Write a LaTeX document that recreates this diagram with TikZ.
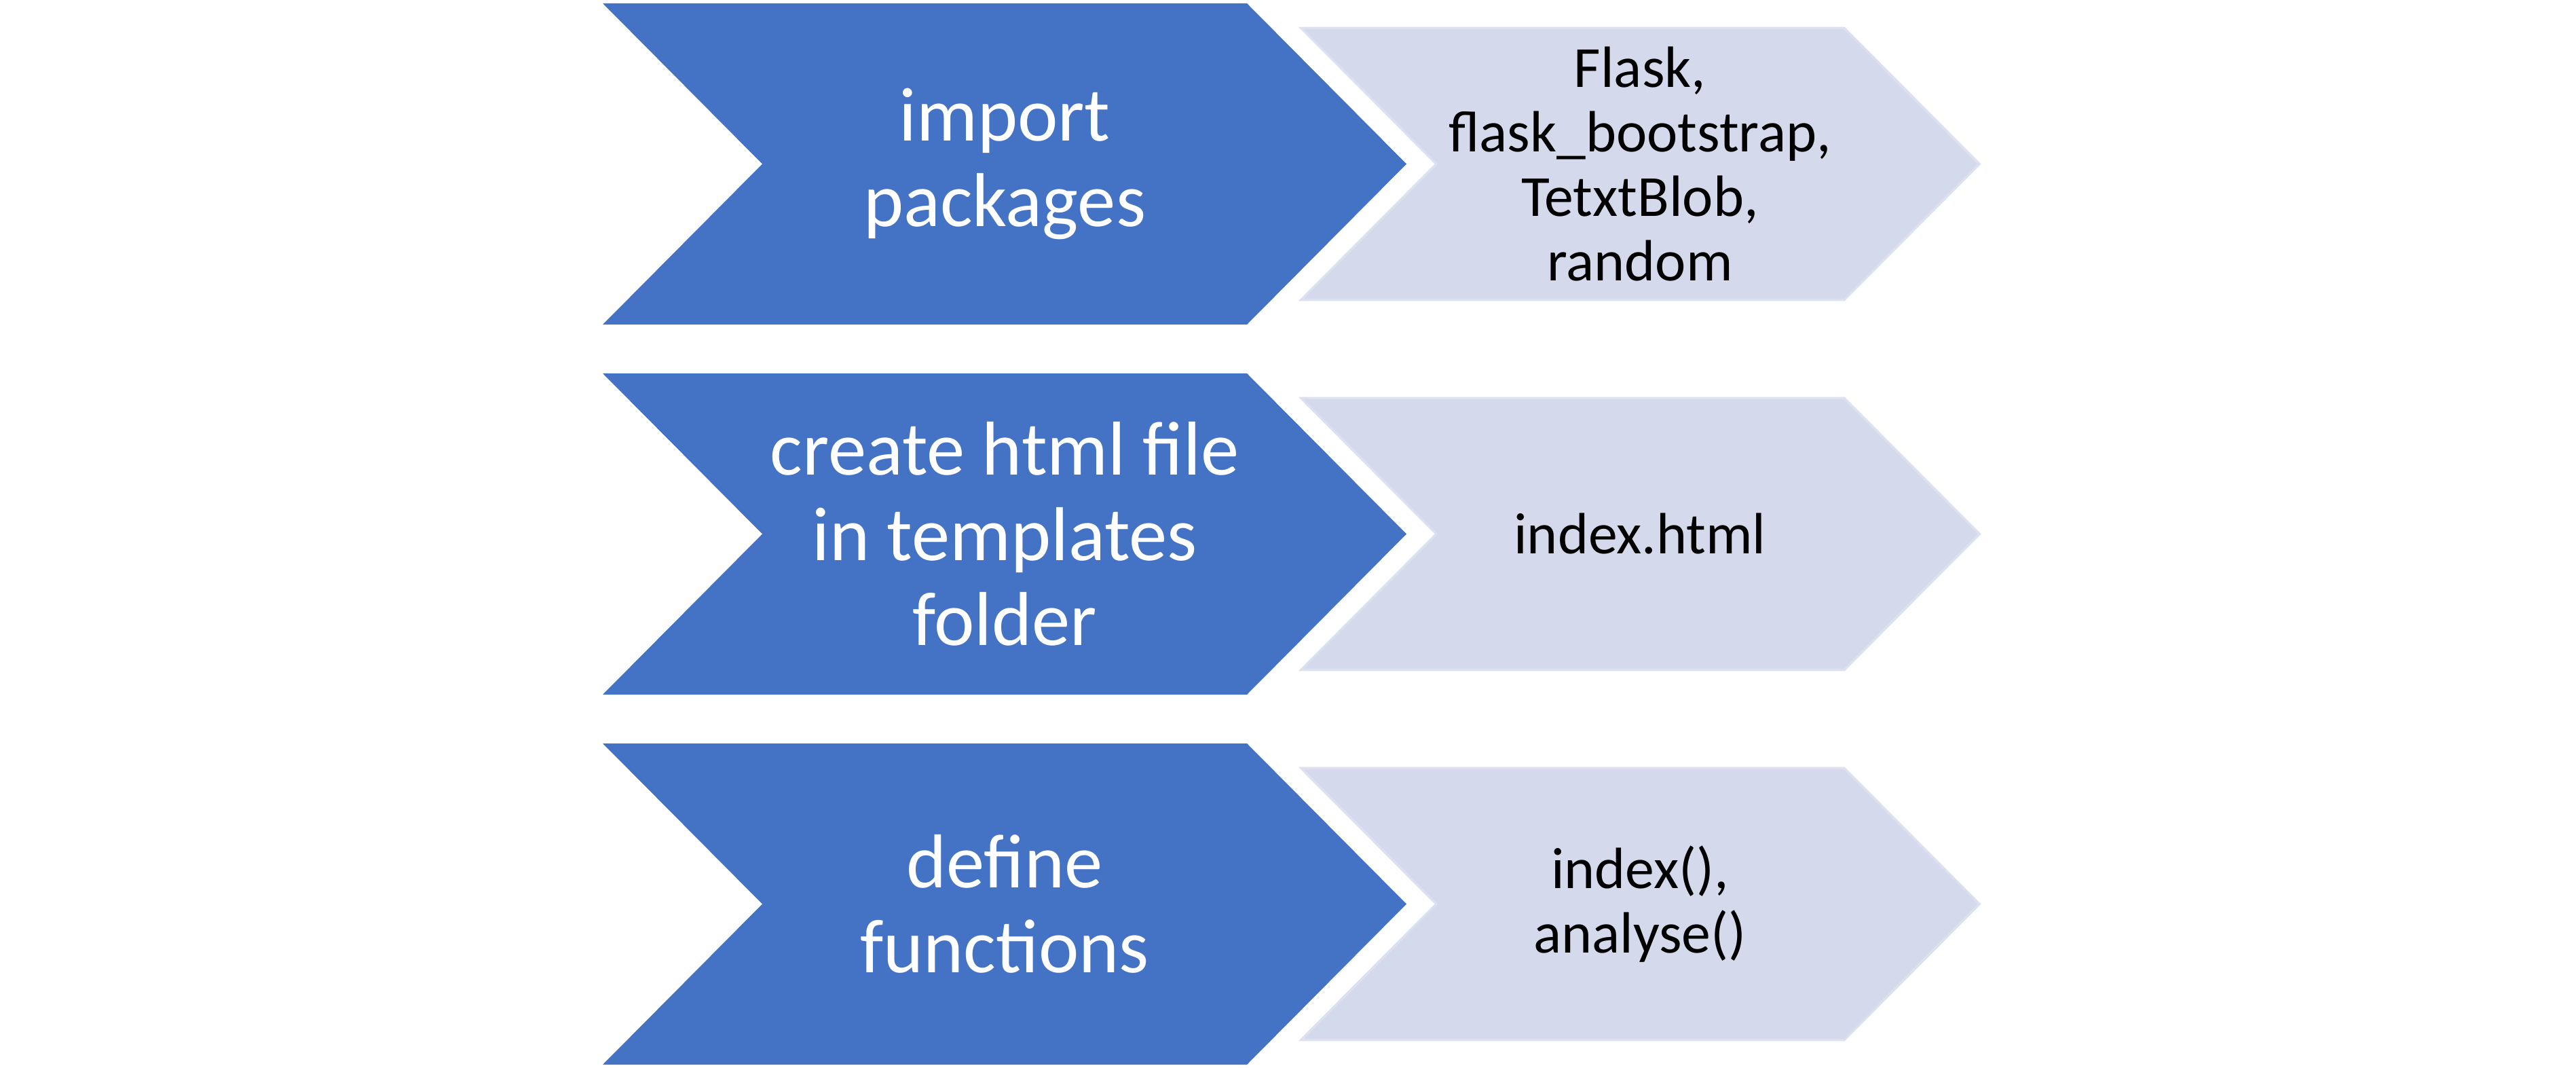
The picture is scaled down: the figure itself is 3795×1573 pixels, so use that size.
\documentclass[tikz,border=0pt]{standalone}
\usepackage{fontspec}
\setmainfont{Carlito}
\definecolor{darkfill}{HTML}{4472C4}
\definecolor{lightfill}{HTML}{D4D9EB}
\definecolor{lightedge}{HTML}{DCE0F0}
\begin{document}
\begin{tikzpicture}[x=0.01cm,y=-0.01cm,
  darkchev/.style={fill=darkfill},
  lightchev/.style={fill=lightfill,draw=lightedge,line width=1pt,line join=miter},
  darktext/.style={text=white,align=center,font=\fontsize{32}{35.7}\selectfont,inner sep=0pt},
  lighttext/.style={text=black,align=center,font=\fontsize{24.4}{27}\selectfont,inner sep=0pt}]
\useasboundingbox (0,0) rectangle (3795,1573);
\foreach \c in {241.5,786.5,1331.5}{
  \fill[darkchev] (888,\c-236.5) -- (1837,\c-236.5) -- (2072,\c) -- (1837,\c+236.5) -- (888,\c+236.5) -- (1123,\c) -- cycle;
  \filldraw[lightchev] (1917,\c-200) -- (2717,\c-200) -- (2916,\c) -- (2717,\c+200) -- (1917,\c+200) -- (2116,\c) -- cycle;
}
\node[darktext] (d1) at (1480,241.5) {import\\packages};
\node[darktext] (d2) at (1480,786.5) {create html file\\in templates\\folder};
\node[darktext] (d3) at (1480,1331.5) {define\\functions};
\node[lighttext] (l1) at (2416,241.5) {Flask,\\flask\_bootstrap,\\TetxtBlob,\\random};
\node[lighttext] (l2) at (2416,786.5) {index.html};
\node[lighttext] (l3) at (2416,1331.5) {index(),\\analyse()};
\end{tikzpicture}
\end{document}
